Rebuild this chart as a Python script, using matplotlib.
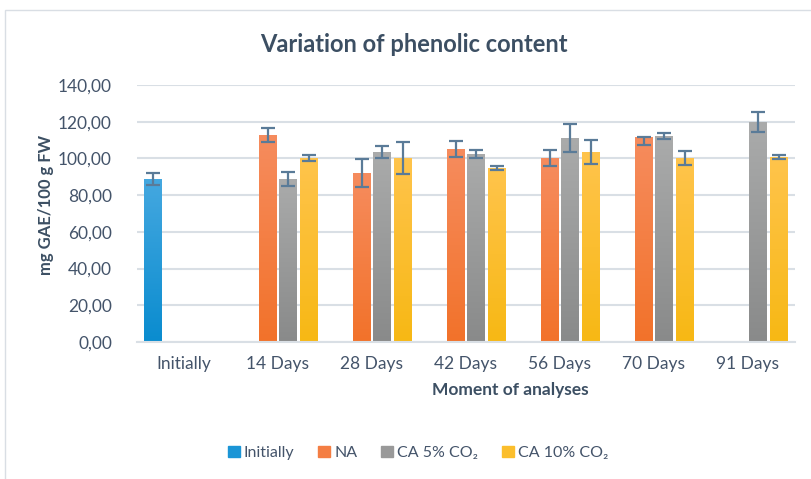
"""
Variation of phenolic content - clustered bars with Excel-like gradient fill
"""

import numpy as np
import matplotlib
matplotlib.use("Agg")
import matplotlib.pyplot as plt
from matplotlib.colors import LinearSegmentedColormap
from matplotlib.patches import Rectangle
from matplotlib.ticker import FuncFormatter

plt.rcParams['font.family'] = ['Lato', 'DejaVu Sans']

# Data
categories = ['Initially', '14 Days', '28 Days', '42 Days', '56 Days', '70 Days', '91 Days']
series_names = ['Initially', 'NA', 'CA 5% CO₂', 'CA 10% CO₂']

initially = [88.8, None, None, None, None, None, None]
initially_err = [3.5, 0, 0, 0, 0, 0, 0]

na = [None, 112.7, 92.0, 105.1, 100.2, 111.7, None]
na_err_low = [0, 4.0, 7.5, 4.5, 4.3, 4.5, 0]
na_err_high = [0, 4.0, 7.5, 4.5, 4.3, 0.0, 0]

ca5 = [None, 88.8, 103.5, 102.4, 111.1, 112.2, 119.8]
ca5_err = [0, 4.0, 3.0, 2.0, 7.6, 1.8, 5.5]

ca10 = [None, 100.2, 100.2, 94.8, 103.5, 100.2, 100.8]
ca10_err = [0, 1.7, 8.5, 1.3, 6.3, 3.8, 1.3]

# gradient colours (top, bottom) per series
grad_colors = [
    ('#45A8E0', '#0A8CCF'),
    ('#F68C5E', '#F2722A'),
    ('#AAABAB', '#898A8A'),
    ('#FFC44C', '#F7B814'),
]
legend_colors = ['#1B95D6', '#F47E43', '#999999', '#FBBE2C']

err_color = '#5A7B98'
grid_color = '#D9DFE5'
text_color = '#44546A'
title_color = '#3C4F63'

fig = plt.figure(figsize=(8.12, 4.79), dpi=100)

# outer chart frame
fig.patches.append(Rectangle((5 / 812, -0.1), 1.0, 1 - 10 / 479 + 0.1,
                             transform=fig.transFigure, fill=False,
                             edgecolor='#D9DEE4', linewidth=1.0))

ax = fig.add_axes([137 / 812, (479 - 342) / 479, 658 / 812, 257 / 479])

x = np.arange(len(categories))
slot = 0.22
width = 0.19
offsets = (np.arange(4) - 1.5) * slot

values = [initially, na, ca5, ca10]
errs = [
    (initially_err, initially_err),
    (na_err_low, na_err_high),
    (ca5_err, ca5_err),
    (ca10_err, ca10_err),
]

gradient = np.linspace(1, 0, 256).reshape(-1, 1)

for k, vals in enumerate(values):
    cmap = LinearSegmentedColormap.from_list('g%d' % k, [grad_colors[k][1], grad_colors[k][0]])
    for i, v in enumerate(vals):
        if v is None:
            continue
        xc = x[i] + offsets[k]
        bar = ax.bar(xc, v, width=width, color=legend_colors[k], linewidth=0, zorder=2)[0]
        im = ax.imshow(gradient, extent=[xc - width / 2, xc + width / 2, 0, v],
                       aspect='auto', cmap=cmap, vmin=0, vmax=1, zorder=2.5)
        im.set_clip_path(bar)
        lo, hi = errs[k][0][i], errs[k][1][i]
        ax.errorbar(xc, v, yerr=[[lo], [hi]], fmt='none', ecolor=err_color,
                    elinewidth=1.6, capsize=5, capthick=1.6, zorder=3)

ax.set_xlim(-0.5, len(categories) - 0.5)
ax.set_ylim(0, 140)
ax.set_yticks(np.arange(0, 141, 20))
ax.yaxis.set_major_formatter(FuncFormatter(lambda v, p: f"{v:.2f}".replace('.', ',')))
ax.set_xticks(x)
ax.set_xticklabels(categories)

ax.grid(axis='y', color=grid_color, linewidth=1.5, zorder=0)
ax.set_axisbelow(True)
for s in ['top', 'right', 'left']:
    ax.spines[s].set_visible(False)
ax.spines['bottom'].set_color(grid_color)
ax.spines['bottom'].set_linewidth(1.5)
ax.tick_params(axis='both', length=0, labelsize=12.5, colors=text_color)
ax.tick_params(axis='y', pad=18)
ax.tick_params(axis='x', pad=10)

# axis titles placed where the reference has them
fig.text(46 / 812, 1 - 205 / 479, 'mg GAE/100 g FW', rotation=90, ha='center', va='center',
         fontsize=12, fontweight='bold', color=title_color)
fig.text(510 / 812, 1 - 390 / 479, 'Moment of analyses', ha='center', va='center',
         fontsize=12.5, fontweight='bold', color=title_color)

fig.text(414 / 812, 1 - 45 / 479, 'Variation of phenolic content', ha='center', va='center',
         fontsize=17, fontweight='bold', color=title_color)

handles = [Rectangle((0, 0), 1, 1, color=c) for c in legend_colors]
fig.legend(handles, series_names, loc='center', bbox_to_anchor=(418 / 812, 1 - 453 / 479),
           ncol=4, frameon=False, fontsize=11.5, handlelength=0.75, handleheight=0.75,
           handletextpad=0.25, columnspacing=1.5, labelcolor=text_color)

fig.savefig('out.png', dpi=100)
